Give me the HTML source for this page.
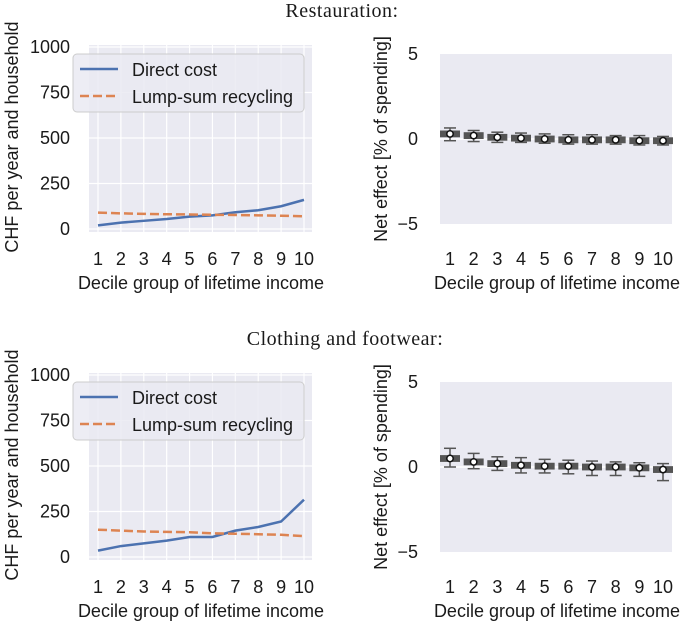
<!DOCTYPE html>
<html><head><meta charset="utf-8"><style>
body{margin:0;background:#fff;width:685px;height:622px;overflow:hidden}
svg text{font-family:"Liberation Sans",sans-serif;fill:#1a1a1a}
.serif{font-family:"Liberation Serif",serif !important}
</style></head><body>
<svg id="s" width="685" height="622" xmlns="http://www.w3.org/2000/svg">
<text class="serif" x="342" y="17" font-size="20" text-anchor="middle" letter-spacing="0.5">Restauration:</text>
<text class="serif" x="345" y="345" font-size="20" text-anchor="middle" letter-spacing="0.5">Clothing and footwear:</text>
</svg>
<script>
const deciles=[1,2,3,4,5,6,7,8,9,10];
const leftTicks=[0,250,500,750,1000];
const rightTicks=[-5,0,5];
const restDirect=[20,35,45,55,68,75,92,103,125,160];
const restLump=[90,86,83,81,80,78,77,75,73,70];
const clothDirect=[35,60,75,90,110,110,145,165,195,315];
const clothLump=[150,145,140,138,136,130,128,125,122,115];
const restMed=[0.3,0.2,0.1,0.05,0,-0.05,-0.05,-0.05,-0.1,-0.1];
const restLo=[-0.1,-0.15,-0.2,-0.2,-0.25,-0.3,-0.3,-0.3,-0.35,-0.35];
const restHi=[0.65,0.5,0.4,0.35,0.3,0.25,0.25,0.2,0.2,0.15];
const clothMed=[0.5,0.3,0.2,0.1,0.05,0.05,0,0,-0.05,-0.15];
const clothLo=[0,-0.1,-0.2,-0.35,-0.35,-0.4,-0.5,-0.5,-0.55,-0.8];
const clothHi=[1.1,0.8,0.6,0.55,0.45,0.4,0.35,0.3,0.25,0.2];
const NS='http://www.w3.org/2000/svg';
const svg=document.getElementById('s');
function mk(t,a,txt){const e=document.createElementNS(NS,t);for(const k in a)e.setAttribute(k,a[k]);if(txt!==undefined)e.textContent=txt;svg.appendChild(e);return e;}
function xLeft(d){return 98+(d-1)*(304-98)/9;}
function xRight(d){return 450+(d-1)*(663-450)/9;}
function leftPanel(oy,direct,lump,key){
  const y=v=>oy+229-v*(229-47)/1000;
  let e=mk('rect',{x:89,y:oy+45,width:223,height:187,fill:'#eaeaf2'});
  
  deciles.forEach(d=>{let g=mk('line',{x1:xLeft(d),x2:xLeft(d),y1:oy+45,y2:oy+232,stroke:'#fff','stroke-width':1.2});
    
    let t=mk('text',{x:xLeft(d),y:oy+265,'font-size':18,'text-anchor':'middle'},d);
    });
  leftTicks.forEach(v=>{let g=mk('line',{x1:89,x2:312,y1:y(v),y2:y(v),stroke:'#fff','stroke-width':1.2});
    
    let t=mk('text',{x:70,y:y(v)+6,'font-size':18,'text-anchor':'end'},v);
    });
  let p1=mk('polyline',{points:direct.map((v,i)=>xLeft(deciles[i])+','+y(v)).join(' '),fill:'none',stroke:'#4c72b0','stroke-width':2.5});
  
  let p2=mk('polyline',{points:lump.map((v,i)=>xLeft(deciles[i])+','+y(v)).join(' '),fill:'none',stroke:'#dd8452','stroke-width':2.5,'stroke-dasharray':'9,4'});
  
  let lg=mk('rect',{x:73,y:oy+54,width:231,height:58,rx:4,fill:'#eaeaf2','fill-opacity':0.85,stroke:'#ccc'});
  
  mk('line',{x1:80,x2:118,y1:oy+69,y2:oy+69,stroke:'#4c72b0','stroke-width':2.5});
  mk('line',{x1:80,x2:118,y1:oy+96,y2:oy+96,stroke:'#dd8452','stroke-width':2.5,'stroke-dasharray':'9,4'});
  let l1=mk('text',{x:132,y:oy+76,'font-size':18},'Direct cost');
  let l2=mk('text',{x:132,y:oy+103,'font-size':18},'Lump-sum recycling');
  let xl=mk('text',{x:201,y:oy+289,'font-size':18,'text-anchor':'middle'},'Decile group of lifetime income');
  
  let yl=mk('text',{x:0,y:0,'font-size':18,'text-anchor':'middle',transform:`translate(18,${oy+137}) rotate(-90)`},'CHF per year and household');
  
}
function rightPanel(oy,med,lo,hi,key){
  const y=v=>oy+139-v*85/5;
  let e=mk('rect',{x:440,y:oy+54,width:232,height:170,fill:'#eaeaf2'});
  
  let z=mk('line',{x1:440,x2:672,y1:y(0),y2:y(0),stroke:'#fff','stroke-width':1.5});
  
  rightTicks.forEach(v=>{let t=mk('text',{x:418,y:y(v)+6,'font-size':18,'text-anchor':'end'},v<0?'\u2212'+(-v):v);
    });
  deciles.forEach((d,i)=>{const x=xRight(d);
    let t=mk('text',{x:x,y:oy+265,'font-size':18,'text-anchor':'middle'},d);
    
    mk('line',{x1:x,x2:x,y1:y(lo[i]),y2:y(hi[i]),stroke:'#555','stroke-width':1.5});
    mk('line',{x1:x-6,x2:x+6,y1:y(lo[i]),y2:y(lo[i]),stroke:'#555','stroke-width':1.5});
    mk('line',{x1:x-6,x2:x+6,y1:y(hi[i]),y2:y(hi[i]),stroke:'#555','stroke-width':1.5});
    let b=mk('rect',{x:x-10,y:y(med[i]+0.2),width:20,height:y(med[i]-0.2)-y(med[i]+0.2),fill:'#555'});
    
    let c=mk('circle',{cx:x,cy:y(med[i]),r:3.2,fill:'#fff',stroke:'#111','stroke-width':1.5});
    });
  let xl=mk('text',{x:557,y:oy+289,'font-size':18,'text-anchor':'middle'},'Decile group of lifetime income');
  
  let yl=mk('text',{x:0,y:0,'font-size':18,'text-anchor':'middle',transform:`translate(387,${oy+139}) rotate(-90)`},'Net effect [% of spending]');
  
}
leftPanel(0,restDirect,restLump,'restauration-cost');
rightPanel(0,restMed,restLo,restHi,'restauration-net');
leftPanel(328,clothDirect,clothLump,'clothing-cost');
rightPanel(328,clothMed,clothLo,clothHi,'clothing-net');
</script>
</body></html>
